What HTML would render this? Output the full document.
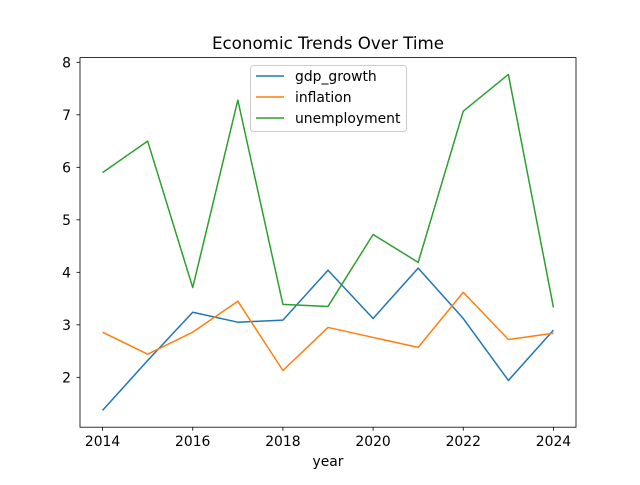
<!DOCTYPE html>
<html><head><meta charset="utf-8"><style>
body{margin:0;background:#fff;}
svg{font-family:"DejaVu Sans","Liberation Sans",sans-serif;}
</style></head><body>
<svg id="chart" width="640" height="480">
<rect width="640" height="480" fill="#fff"/>
<text x="328" y="49" text-anchor="middle" font-size="16.7">Economic Trends Over Time</text>
<g id="plot"></g>
<rect x="80" y="57.6" width="496" height="369.6" fill="none" stroke="#000" stroke-width="0.8"/>
<text x="328" y="466" text-anchor="middle" font-size="13.9">year</text>
<g>
<rect x="250.5" y="65.5" width="156" height="66" rx="3" fill="#fff" fill-opacity="0.8" stroke="#ccc"/>
<g><line x1="256" y1="76" x2="284" y2="76" stroke="#1f77b4" stroke-width="1.5"/><text x="295" y="81" font-size="13.9">gdp_growth</text></g>
<g><line x1="256" y1="97" x2="284" y2="97" stroke="#ff7f0e" stroke-width="1.5"/><text x="295" y="102" font-size="13.9">inflation</text></g>
<g><line x1="256" y1="118" x2="284" y2="118" stroke="#2ca02c" stroke-width="1.5"/><text x="295" y="123" font-size="13.9">unemployment</text></g>
</g>
</svg>
<script>
const years=[2014,2015,2016,2017,2018,2019,2020,2021,2022,2023,2024];
const gdpGrowth=[1.37,2.32,3.24,3.05,3.09,4.04,3.12,4.08,3.12,1.94,2.9];
const inflation=[2.86,2.44,2.86,3.45,2.13,2.95,2.76,2.57,3.62,2.72,2.84];
const unemployment=[5.9,6.5,3.71,7.28,3.39,3.35,4.72,4.19,7.07,7.77,3.33];
const xTicks=[2014,2016,2018,2020,2022,2024];
const yTicks=[2,3,4,5,6,7,8];
const NS="http://www.w3.org/2000/svg";
const L=80,R=576,T=57.6,B=427.2;
const all=gdpGrowth.concat(inflation,unemployment);
let mn=Math.min(...all),mx=Math.max(...all),pd=(mx-mn)*0.05;
const y0=mn-pd,y1=mx+pd;
const xs0=years[0]-(years[years.length-1]-years[0])*0.05,xs1=years[years.length-1]+(years[years.length-1]-years[0])*0.05;
const X=v=>L+(v-xs0)/(xs1-xs0)*(R-L);
const Y=v=>B-(v-y0)/(y1-y0)*(B-T);
const g=document.getElementById('plot');
function el(t,a){const e=document.createElementNS(NS,t);for(const k in a)e.setAttribute(k,a[k]);g.appendChild(e);return e;}
xTicks.forEach(t=>{
 const l=el('line',{x1:X(t),x2:X(t),y1:B,y2:B+3.5,stroke:'#000','stroke-width':0.8});
 
 
 const tx=el('text',{x:X(t),y:B+19,'text-anchor':'middle','font-size':13.9});tx.textContent=t;
 
 
});
yTicks.forEach(t=>{
 if(t<y0||t>y1)return;
 const l=el('line',{x1:L-3.5,x2:L,y1:Y(t),y2:Y(t),stroke:'#000','stroke-width':0.8});
 
 
 const tx=el('text',{x:L-9,y:Y(t)+5,'text-anchor':'end','font-size':13.9});tx.textContent=t;
 
 
});
[[gdpGrowth,'#1f77b4','gdp-growth-line'],[inflation,'#ff7f0e','inflation-line'],[unemployment,'#2ca02c','unemployment-line']].forEach(([d,c,n])=>{
 const p=el('polyline',{points:d.map((v,i)=>X(years[i])+','+Y(v)).join(' '),fill:'none',stroke:c,'stroke-width':1.5,'stroke-linejoin':'round'});
 
 
});
</script>
</body></html>
